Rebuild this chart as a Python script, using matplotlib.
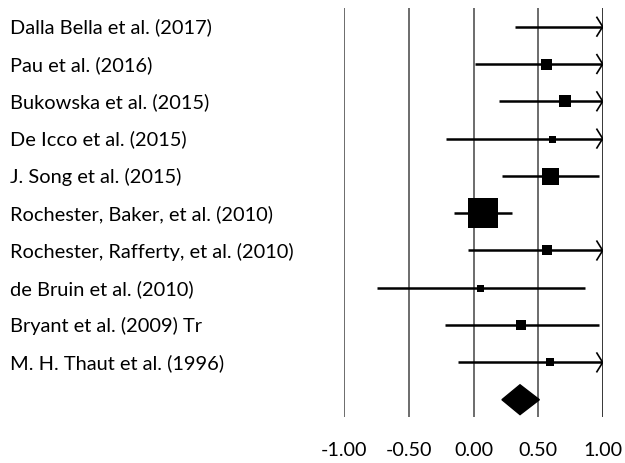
import matplotlib.pyplot as plt

# study labels, top to bottom
studies = ["Dalla Bella et al. (2017)", "Pau et al. (2016)", "Bukowska et al. (2015)",
           "De Icco et al. (2015)", "J. Song et al. (2015)", "Rochester, Baker, et al. (2010)",
           "Rochester, Rafferty, et al. (2010)", "de Bruin et al. (2010)",
           "Bryant et al. (2009) Tr", "M. H. Thaut et al. (1996)"]
# effect sizes and confidence limits
effect = [1.20, 0.56, 0.71, 0.61, 0.59, 0.07, 0.57, 0.05, 0.37, 0.59]
lower = [0.32, 0.015, 0.20, -0.21, 0.22, -0.15, -0.04, -0.75, -0.22, -0.12]
upper = [2.10, 1.20, 1.30, 1.40, 0.97, 0.30, 1.30, 0.86, 0.97, 1.40]
# square side in pixels (study weight)
box_px = [0, 11, 12, 7, 17, 30, 10, 7, 10, 8]
# pooled estimate
pooled = [0.22, 0.36, 0.51]
ticks = [-1.0, -0.5, 0.0, 0.5, 1.0]
tick_labels = ["-1.00", "-0.50", "0.00", "0.50", "1.00"]

W, H = 625, 464
fig = plt.figure(figsize=(W / 100, H / 100), dpi=100)
plt.rcParams['font.family'] = ['Lato', 'DejaVu Sans']

# axes box: x from -1 at 344.3px to 1 at 602.7px, y from 9px to 418px
x0, x1 = 344.3, 602.7
y0, y1 = 9, 418
ax = fig.add_axes([x0 / W, 1 - y1 / H, (x1 - x0) / W, (y1 - y0) / H])
row_h = 37.3
ax.set_xlim(-1, 1)
ax.set_ylim((y1 - 27.7) / row_h, (y0 - 27.7) / row_h)
for s in ax.spines.values():
    s.set_visible(False)
ax.set_yticks([])
ax.set_xticks(ticks)
ax.set_xticklabels(tick_labels, fontsize=14.2)
ax.tick_params(axis='x', length=0, pad=17)

for t in ticks:
    ax.axvline(t, color='black' if t == 1.0 else '#444444', lw=1.1, zorder=1)

for i, name in enumerate(studies):
    lo = max(lower[i], -1)
    hi = min(upper[i], 1)
    ax.plot([lo, hi], [i, i], color='black', lw=1.8, zorder=2, solid_capstyle='butt')
    if upper[i] > 1:
        # open arrowhead at the axis edge
        ax.plot([0.955, 1.0, 0.955], [i - 0.25, i, i + 0.25], color='black', lw=1.2, zorder=3)
    if box_px[i] > 0 and -1 <= effect[i] <= 1:
        ax.plot(effect[i], i, marker='s', color='black', ms=box_px[i] * 0.72,
                mew=0, zorder=4)
    fig.text(10 / W, 1 - (27.7 + row_h * i) / H, name, fontsize=14.4,
             ha='left', va='center')

yd = len(studies)
ax.fill([pooled[0], pooled[1], pooled[2], pooled[1]], [yd, yd - 0.4, yd, yd + 0.4],
        color='black', zorder=4)

fig.savefig("out.png", dpi=100)
